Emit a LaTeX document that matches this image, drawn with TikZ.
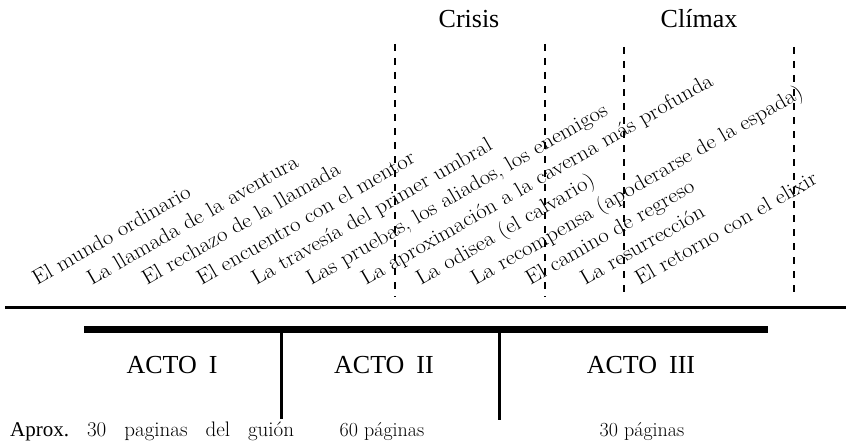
\documentclass[tikz,border=0pt]{standalone}
\usepackage{fontspec}
\newfontfamily\tms{Liberation Serif}
\newcommand{\wgap}{\hspace{18pt}}
\begin{document}
\begin{tikzpicture}[x=1pt,y=-1pt,
  stage/.style={anchor=base west, rotate=30, inner sep=0pt, font=\fontsize{21}{21}\selectfont},
  peak/.style={anchor=base, inner sep=0pt, font=\tms\fontsize{26}{26}\selectfont},
  act/.style={anchor=base, inner sep=0pt, font=\tms\fontsize{26}{26}\selectfont},
  pages/.style={inner sep=0pt, font=\fontsize{20}{20}\selectfont},
  marker/.style={line width=2.6pt, dash pattern=on 7pt off 7pt},
  axis/.style={line width=3pt},
  bar/.style={line width=7pt},
  divider/.style={line width=3pt}]
\useasboundingbox (0,0) rectangle (846,444);
% title marks
\node[peak] (crisis) at (469,28) {Crisis};
\node[peak] (climax) at (699,28) {Clímax};
% dashed markers
\foreach \x/\t [count=\k] in {395/44,545/44,624/47,794/47}{
  \coordinate (d\k t) at (\x,\t);
  \coordinate (d\k b) at (\x,297);
  \draw[marker] (d\k t) -- (d\k b);
}
% stages
\foreach \txt [count=\i from 0] in {
  El mundo ordinario,
  La llamada de la aventura,
  El rechazo de la llamada,
  El encuentro con el mentor,
  La travesía del primer umbral,
  {Las pruebas, los aliados, los enemigos},
  La aproximación a la caverna más profunda,
  La odisea (el calvario),
  La recompensa (apoderarse de la espada),
  El camino de regreso,
  La resurrección,
  El retorno con el elixir}{
  \node[stage] (s\i) at ({37+54.8*\i},286) {\scalebox{1.09}[1]{\txt}};
}
% axis
\coordinate (axL) at (5,307);
\coordinate (axR) at (846,307);
\draw[axis] (axL) -- (axR);
% act bar
\coordinate (barL) at (84,329);
\coordinate (barR) at (768,329);
\draw[bar] (barL) -- (barR);
\coordinate (v1t) at (281,329);
\coordinate (v1b) at (281,419);
\coordinate (v2t) at (499,329);
\coordinate (v2b) at (499,420);
\draw[divider] (v1t) -- (v1b);
\draw[divider] (v2t) -- (v2b);
% acts
\node[act] (a1) at (172,373) {ACTO\hspace{12pt}I};
\node[act] (a2) at (384,373) {ACTO\hspace{12pt}II};
\node[act] (a3) at (641,373) {ACTO\hspace{12pt}III};
% pages
\node[pages, anchor=base west, font=\fontsize{21}{21}\selectfont] (p1) at (10,436) {{\tms Aprox.}\wgap 30\wgap paginas\wgap del\wgap guión};
\node[pages, anchor=base] (p2) at (382,436) {60 páginas};
\node[pages, anchor=base] (p3) at (642,436) {30 páginas};
\end{tikzpicture}
\end{document}
